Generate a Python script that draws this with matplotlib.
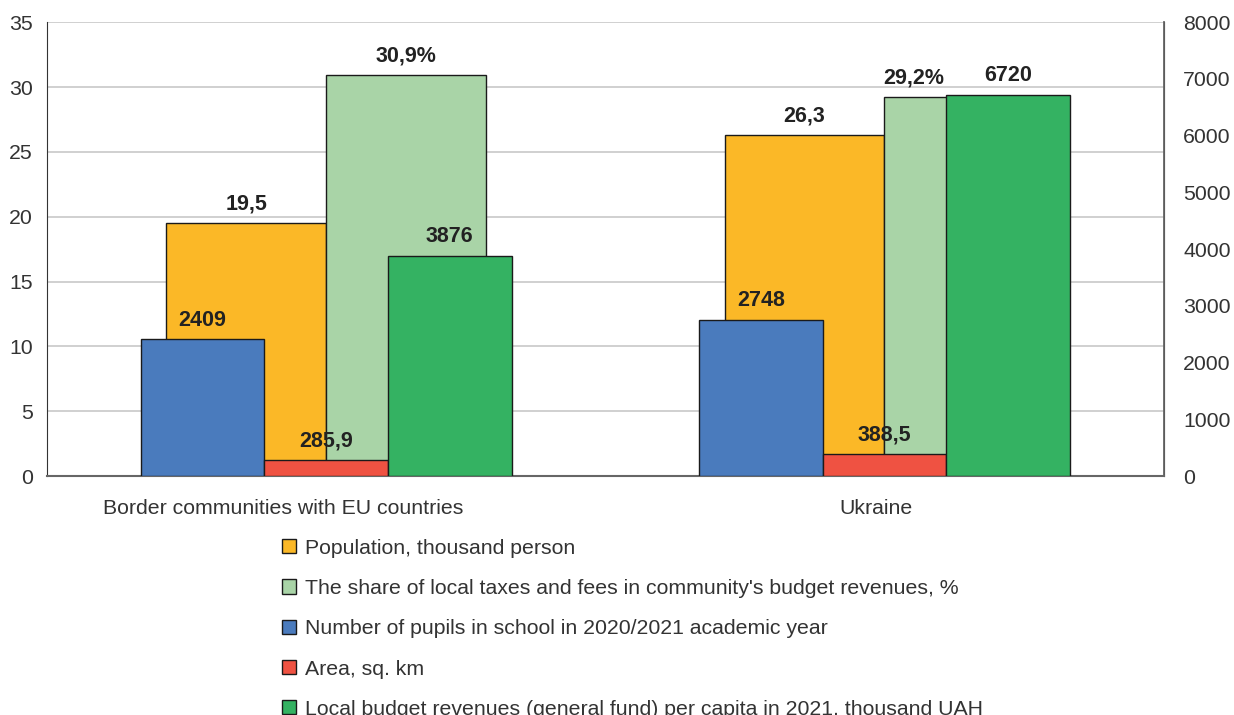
import matplotlib
matplotlib.use("Agg")
import matplotlib.pyplot as plt
from matplotlib.patches import Patch
import numpy as np

plt.rcParams['font.family'] = ['Liberation Sans', 'DejaVu Sans']

# categories and series
categories = ["Border communities with EU countries", "Ukraine"]

population = [19.5, 26.3]           # left axis
taxes_share = [30.9, 29.2]          # left axis, %
pupils = [2409, 2748]               # right axis
area = [285.9, 388.5]               # right axis
revenues = [3876, 6720]             # right axis

series_names = [
    "Population, thousand person",
    "The share of local taxes and fees in community's budget revenues, %",
    "Number of pupils in school in 2020/2021 academic year",
    "Area, sq. km",
    "Local budget revenues (general fund) per capita in 2021, thousand UAH",
]
colors = ["#FBB827", "#A9D4A7", "#4A7BBD", "#EF5242", "#34B262"]

left_ticks = list(range(0, 36, 5))
right_ticks = list(range(0, 8001, 1000))


def fmt(v, suffix=""):
    s = ("%g" % v).replace(".", ",")
    return s + suffix


fig = plt.figure(figsize=(12.34, 7.15), dpi=100)
ax = fig.add_axes([0.038, 0.334, 0.905, 0.635])
ax2 = ax.twinx()

x = np.arange(len(categories))
w1 = 0.286
w2 = 0.2215
label_kw = dict(ha="center", va="center", fontsize=15.5, fontweight="bold",
                color="#222222", textcoords="offset points")

# primary axis bars; the share label over Ukraine sits over the visible strip
prim_shift = {(1, 1): -0.09}
for k, (vals, off, col, suf) in enumerate([(population, -w1 / 2, colors[0], ""),
                                           (taxes_share, w1 / 2, colors[1], "%")]):
    bars = ax.bar(x + off, vals, w1, color=col, edgecolor="#1a1a1a", linewidth=1, zorder=2)
    for i, (b, v) in enumerate(zip(bars, vals)):
        cx = b.get_x() + b.get_width() / 2 + prim_shift.get((k, i), 0)
        ax.annotate(fmt(v, suf), (cx, v), xytext=(0, 14), **label_kw)

# secondary axis bars
for vals, off, col in [(pupils, -w2, colors[2]), (area, 0, colors[3]), (revenues, w2, colors[4])]:
    bars = ax2.bar(x + off, vals, w2, color=col, edgecolor="#1a1a1a", linewidth=1, zorder=2)
    for b, v in zip(bars, vals):
        ax2.annotate(fmt(v), (b.get_x() + b.get_width() / 2, v), xytext=(0, 14), **label_kw)

ax.set_xlim(-0.5, 1.5)
ax.set_ylim(0, 35)
ax2.set_ylim(0, 8000)
ax.set_yticks(left_ticks)
ax2.set_yticks(right_ticks)
ax.set_xticks(x)
ax.set_xticklabels([])

# category names
for xi, name, dx in zip(x, categories, [-0.077, -0.016]):
    ax.text(xi + dx, -0.071, name, transform=ax.get_xaxis_transform(), ha="center",
            va="center", fontsize=15.3, color="#333333")

ax.yaxis.grid(True, color="#c8c8c8", linewidth=1.2)
ax.set_axisbelow(True)

ax.tick_params(axis="y", length=0, pad=10, labelsize=15.3, labelcolor="#333333")
ax.tick_params(axis="x", length=0)
ax2.tick_params(axis="y", length=0, pad=14, labelsize=15.3, labelcolor="#333333")

for a in (ax, ax2):
    a.spines["top"].set_visible(False)
ax.spines["left"].set_color("#333333")
ax.spines["bottom"].set_color("#666666")
ax.spines["bottom"].set_linewidth(1.5)
ax2.spines["right"].set_color("#666666")
ax2.spines["right"].set_linewidth(1.3)
ax2.spines["left"].set_visible(False)
ax2.spines["bottom"].set_visible(False)

handles = [Patch(facecolor=c, edgecolor="#1a1a1a", linewidth=1) for c in colors]
fig.legend(handles, series_names, loc="upper left", bbox_to_anchor=(0.2285, 0.2465),
           frameon=False, fontsize=15.3, labelcolor="#333333",
           handlelength=0.65, handleheight=0.65, handletextpad=0.45,
           labelspacing=1.0, borderpad=0, borderaxespad=0)

fig.savefig("out.png", dpi=100)
